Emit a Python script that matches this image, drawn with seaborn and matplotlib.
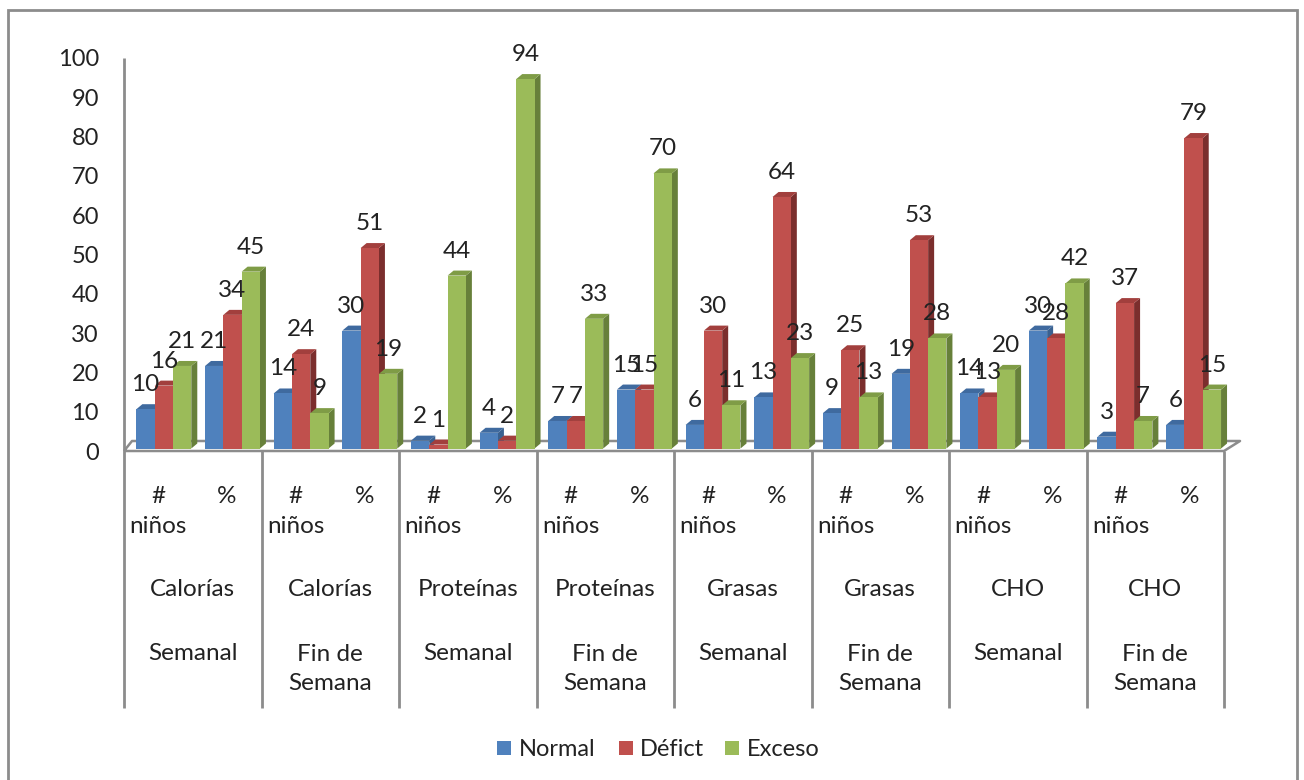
import matplotlib
matplotlib.use("Agg")
import matplotlib.pyplot as plt
import numpy as np
import pandas as pd
import seaborn as sns
from matplotlib.lines import Line2D
from matplotlib.patches import Polygon, Rectangle
from matplotlib.transforms import Affine2D, IdentityTransform

# Intake survey results per nutrient and period
measure_labels = ["#\nniños", "%"] * 8
nutrient_labels = ["Calorías", "Calorías", "Proteínas", "Proteínas",
                   "Grasas", "Grasas", "CHO", "CHO"]
period_labels = ["Semanal", "Fin de\nSemana"] * 4
normal = [10, 21, 14, 30, 2, 4, 7, 15, 6, 13, 9, 19, 14, 30, 3, 6]
deficit = [16, 34, 24, 51, 1, 2, 7, 15, 30, 64, 25, 53, 13, 28, 37, 79]
exceso = [21, 45, 9, 19, 44, 94, 33, 70, 11, 23, 13, 28, 20, 42, 7, 15]
series_names = ["Normal", "Défict", "Exceso"]
front_colors = ["#4F81BD", "#C0504D", "#9BBB59"]
top_colors = ["#3F6A9F", "#A23F3D", "#7F9C46"]
side_colors = ["#3A6190", "#7B2E2D", "#67803A"]
y_ticks = list(range(0, 101, 10))

W, H, DPI = 1304, 780, 100
GRAY = "#8C8C8C"
TEXT = "#222222"
FONT = "Lato"
LABEL_SIZE = 17.5

sns.set_theme(style="white", rc={"font.family": FONT})
fig = plt.figure(figsize=(W / DPI, H / DPI), dpi=DPI, facecolor="white")

# Plot area in pixels, y measured from the top of the canvas
LEFT, RIGHT, TOP, BASE = 124, 1224, 58, 451
ax = fig.add_axes([LEFT / W, 1 - BASE / H, (RIGHT - LEFT) / W, (BASE - TOP) / H])
ax.patch.set_alpha(0)


def pixel_line(xs, ys, lw=2.0, color=GRAY, zorder=2):
    fig.add_artist(Line2D(np.array(xs) / W, 1 - np.array(ys) / H, lw=lw, color=color,
                          solid_capstyle="butt", transform=fig.transFigure, zorder=zorder))


# Chart frame, its lower edge runs off the canvas
fig.add_artist(Rectangle((7.5 / W, -20 / H), 1289 / W, 790 / H, fill=False,
                         edgecolor=GRAY, lw=2.0, transform=fig.transFigure))

frame = pd.DataFrame({
    "pos": np.tile(np.arange(16), 3),
    "serie": np.repeat(series_names, 16),
    "valor": normal + deficit + exceso,
})
sns.barplot(data=frame, x="pos", y="valor", hue="serie", hue_order=series_names,
            palette=front_colors, width=0.8, gap=0, saturation=1, legend=False,
            order=list(range(16)), native_scale=False, ax=ax)
ax.set_xlim(-0.5, 15.5)
ax.set_ylim(0, 100)
ax.set_xlabel("")
ax.set_ylabel("")

# Floor of the 3D box, kept behind the bars
DX, DY = 6, 5
floor_back = BASE - 10
pixel_line([LEFT, LEFT + 8, 1240, RIGHT, LEFT], [BASE, floor_back, floor_back, BASE, BASE],
           lw=1.8, zorder=-1)

# Bars sit slightly inside the floor: shift them and add side and top faces
shift = Affine2D().translate(-LEFT, 0).scale(68.65 / 68.75, 1).translate(LEFT + 5.5, 2.5)
to_pixels = ax.transData + shift
series_values = [normal, deficit, exceso]
for s, container in enumerate(ax.containers):
    for i, bar in enumerate(container):
        order = 10 + i * 3 + s
        bar.set_transform(to_pixels)
        bar.set_edgecolor("none")
        bar.set_zorder(order + 0.2)
        bar.set_clip_on(False)
        x0, x1 = bar.get_x(), bar.get_x() + bar.get_width()
        (ax0, ay0), (ax1, ay1) = to_pixels.transform([(x0, 0), (x1, bar.get_height())])
        side = [(ax1, ay0), (ax1 + DX, ay0 + DY), (ax1 + DX, ay1 + DY), (ax1, ay1)]
        top = [(ax0, ay1), (ax1, ay1), (ax1 + DX, ay1 + DY), (ax0 + DX, ay1 + DY)]
        for pts, col in ((side, side_colors[s]), (top, top_colors[s])):
            ax.add_patch(Polygon(pts, closed=True, facecolor=col, edgecolor="none",
                                 transform=IdentityTransform(), zorder=order, clip_on=False))
        fig.text((ax0 + ax1) / 2 / W, (ay1 + 24.5) / H, str(series_values[s][i]),
                 ha="center", va="center", fontsize=LABEL_SIZE, color=TEXT, family=FONT, zorder=50)

# Value axis
for side_name in ("top", "right", "bottom", "left"):
    ax.spines[side_name].set_visible(False)
ax.set_yticks(y_ticks)
ax.set_yticklabels([str(v) for v in y_ticks], fontsize=17, color=TEXT)
ax.tick_params(axis="y", length=0, pad=18)
pixel_line([LEFT, LEFT], [TOP, 708], lw=2.0)

# Three-level category axis
ax.set_xticks(range(16))
ax.set_xticklabels(measure_labels, fontsize=LABEL_SIZE, color=TEXT, linespacing=1.52)
ax.tick_params(axis="x", length=0, pad=25)
cell = (RIGHT - LEFT) / 16
for k in range(8):
    center = LEFT + cell * (2 * k + 1)
    fig.text(center / W, 1 - 590 / H, nutrient_labels[k], ha="center", va="center",
             fontsize=LABEL_SIZE, color=TEXT, family=FONT)
    fig.text(center / W, 1 - (654 if k % 2 == 0 else 669) / H, period_labels[k], ha="center",
             va="center", fontsize=LABEL_SIZE, color=TEXT, family=FONT, linespacing=1.52)
    x_sep = LEFT + cell * 2 * (k + 1)
    pixel_line([x_sep, x_sep], [BASE, 708], lw=2.0)

# Legend keys and labels laid out along the bottom edge
legend_keys = [497, 619, 725]
legend_text = [519, 640, 747]
for name, color, kx, tx in zip(series_names, front_colors, legend_keys, legend_text):
    fig.add_artist(Rectangle((kx / W, 1 - 755 / H), 14 / W, 14 / H, facecolor=color,
                             edgecolor="none", transform=fig.transFigure))
    fig.text(tx / W, 1 - 750 / H, name, ha="left", va="center", fontsize=17, color=TEXT, family=FONT)

fig.savefig("out.png", dpi=DPI, facecolor="white")
